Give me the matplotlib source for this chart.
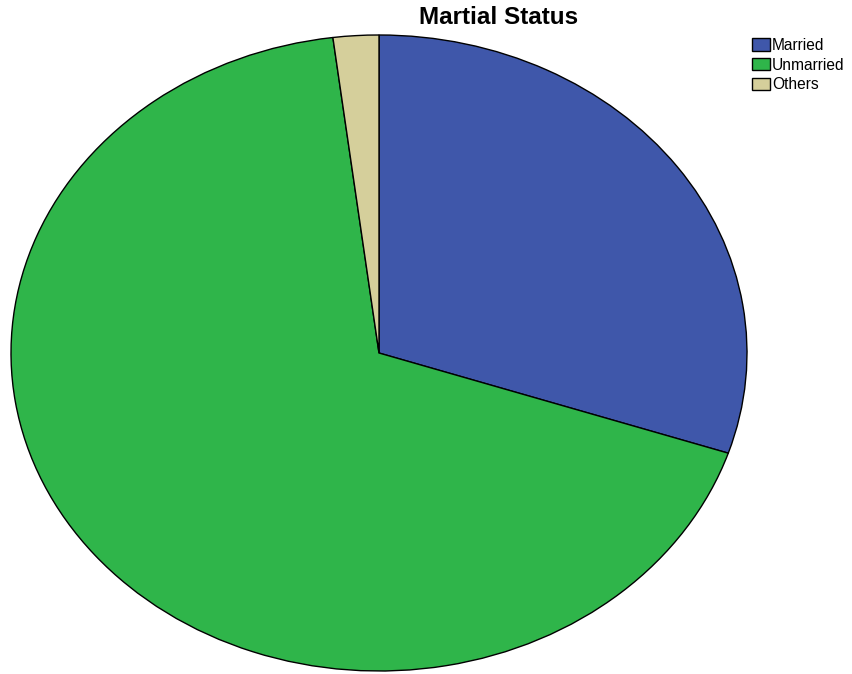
import matplotlib
matplotlib.use("Agg")
import matplotlib.pyplot as plt

categories = ["Married", "Unmarried", "Others"]
values = [30.1, 67.9, 2.0]
colors = ["#3f57aa", "#2fb54a", "#d5cf9b"]

plt.rcParams['font.family'] = ['Liberation Sans', 'DejaVu Sans']

fig = plt.figure(figsize=(8.53, 6.74), dpi=100)
W, H = 853, 674
ax = fig.add_axes([11 / W, (H - 671) / H, 736 / W, 636 / H])
wedges, _ = ax.pie(values, colors=colors, startangle=90, counterclock=False,
                   wedgeprops=dict(edgecolor="black", linewidth=1.0), radius=1.0)
ax.set_aspect('auto')
ax.set_xlim(-1, 1)
ax.set_ylim(-1, 1)
ax.axis('off')

fig.text(499 / W, 1 - 17 / H, "Martial Status", ha="center", va="center",
         fontsize=17.5, fontweight="bold")

leg = fig.legend(wedges, categories, loc="upper left",
                 bbox_to_anchor=(752 / W, 1 - 38 / H), frameon=False,
                 fontsize=11.2, handlelength=1.15, handleheight=0.85,
                 handletextpad=0.12, labelspacing=0.3, borderpad=0.0,
                 borderaxespad=0.0)

fig.savefig("out.png", dpi=100)
